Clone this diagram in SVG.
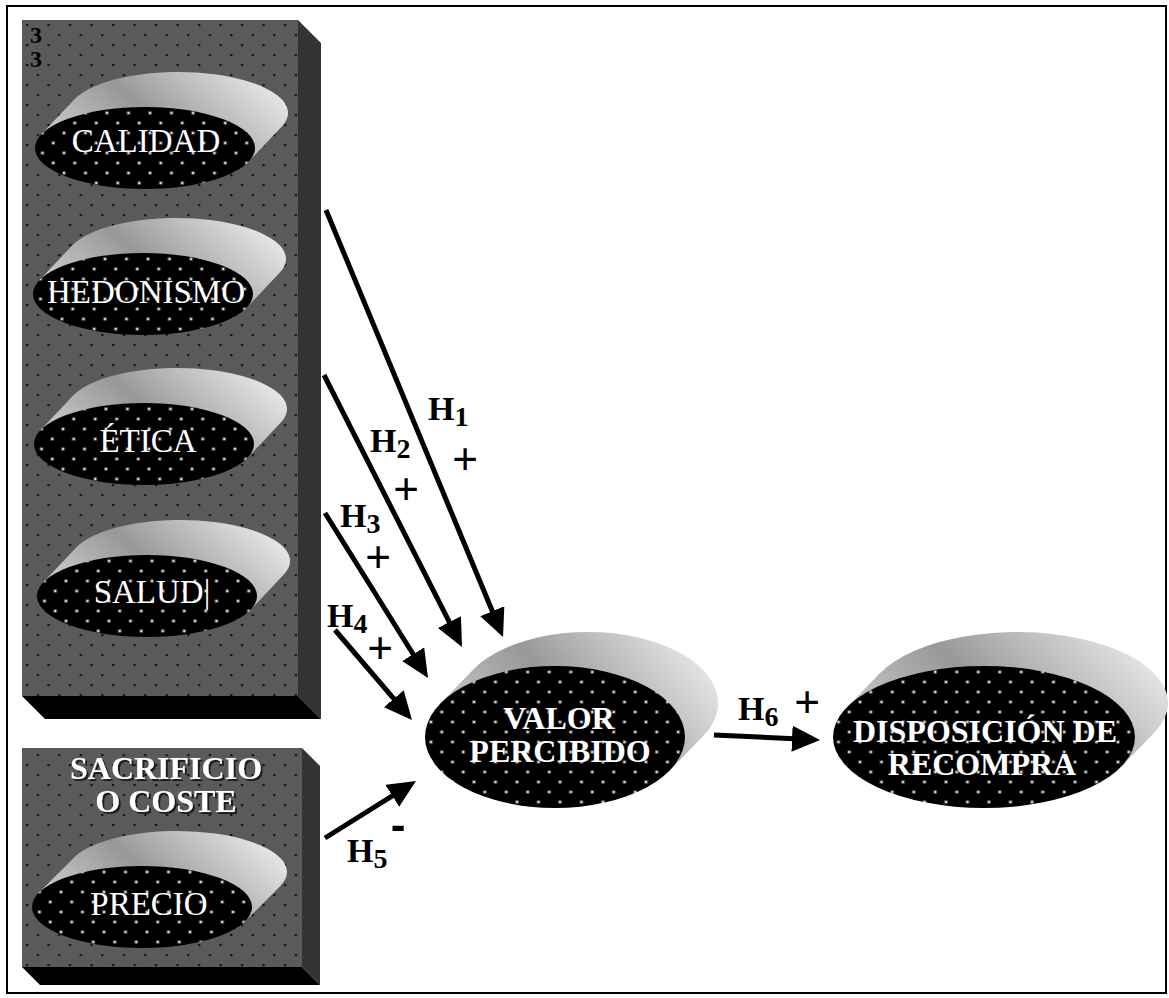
<svg xmlns="http://www.w3.org/2000/svg" width="1169" height="998" viewBox="0 0 1169 998">
<style>
.t{font-family:"Liberation Serif","Times New Roman",serif;font-size:33px;fill:#fff;text-anchor:middle}
.b{font-weight:bold;font-size:32px}
.sh{filter:url(#fSh)}
.h{font-family:"Liberation Serif","Times New Roman",serif;font-weight:bold;font-size:34px;fill:#000}
.sub{font-size:28px}
.num{font-family:"Liberation Serif","Times New Roman",serif;font-weight:bold;font-size:24px;fill:#000}
.pl{font-family:"Liberation Serif","Times New Roman",serif;font-weight:bold;font-size:46px;fill:#000;text-anchor:middle}
.mi{font-family:"Liberation Sans",Arial,sans-serif;font-weight:bold;font-size:44px;fill:#000;text-anchor:middle}
.front{fill:url(#pBox)}
.side{fill:#333}
.bottom{fill:#000}
.lid{fill:url(#gLid)}
.hole{fill:url(#pHole)}
#connectors line{stroke:#000;stroke-width:5;marker-end:url(#ah)}
</style>
<defs>
<filter id="fSh" x="-10%" y="-20%" width="120%" height="150%">
<feDropShadow dx="2" dy="2" stdDeviation="0.6" flood-color="#1a1a1a" flood-opacity="1"/>
</filter>
<pattern id="pBox" patternUnits="userSpaceOnUse" width="21.5" height="20" x="22" y="20">
<rect width="21.5" height="20" fill="#5a5a5a"/>
<rect x="4" y="4" width="2.2" height="2.2" fill="#111"/>
<rect x="14.75" y="14" width="2.2" height="2.2" fill="#111"/>
</pattern>
<pattern id="pHole" patternUnits="userSpaceOnUse" width="21.5" height="20">
<rect width="21.5" height="20" fill="#000"/>
<circle cx="5" cy="5" r="2.2" fill="#4a4a4a"/>
<circle cx="5" cy="5" r="1.1" fill="#f4f4f4"/>
<circle cx="15.75" cy="15" r="2.2" fill="#4a4a4a"/>
<circle cx="15.75" cy="15" r="1.1" fill="#f4f4f4"/>
</pattern>
<linearGradient id="gLid" x1="0" y1="0.7" x2="1" y2="0.3">
<stop offset="0" stop-color="#cfcfcf"/>
<stop offset="0.45" stop-color="#989898"/>
<stop offset="1" stop-color="#e8e8e8"/>
</linearGradient>
<path id="lidS" d="M-103.8,-13.6 L-70.8,-48.6 A110 41 0 0 1 136.8,-21.4 L103.8,13.6 Z"/>
<path id="lidP" d="M-103.1,-14.3 L-68.1,-49.3 A110 41 0 0 1 138.1,-20.7 L103.1,14.3 Z"/>
<marker id="ah" markerUnits="userSpaceOnUse" viewBox="0 0 28 26" markerWidth="28" markerHeight="26" refX="18" refY="13" orient="auto">
<path d="M0,0 L28,13 L0,26 Z" fill="#000"/>
</marker>
</defs>
<rect x="0" y="0" width="1169" height="998" fill="#fff"/>
<rect x="7" y="6" width="1159" height="987" fill="none" stroke="#000" stroke-width="2"/>

<g id="box-atributos">
<rect class="front" x="22" y="20" width="276" height="676"/>
<polygon class="side" points="298,20 321,43 321,719 298,696"/>
<polygon class="bottom" points="22,696 298,696 321,719 45,719"/>
<text class="num" x="30" y="43">3</text>
<text class="num" x="30" y="67">3</text>
</g>

<g id="calidad" transform="translate(145,148)">
<use href="#lidS" class="lid"/>
<ellipse class="hole" rx="110" ry="41"/>
<text class="t" x="1" y="4">CALIDAD</text>
</g>
<g id="hedonismo" transform="translate(143,294)">
<use href="#lidS" class="lid"/>
<ellipse class="hole" rx="110" ry="41"/>
<text class="t" x="3" y="9">HEDONISMO</text>
</g>
<g id="etica" transform="translate(144,444)">
<use href="#lidS" class="lid"/>
<ellipse class="hole" rx="110" ry="41"/>
<text class="t" x="4" y="8">ÉTICA</text>
</g>
<g id="salud" transform="translate(147,596)">
<use href="#lidS" class="lid"/>
<ellipse class="hole" rx="110" ry="41"/>
<text class="t" x="5" y="7">SALUD|</text>
</g>

<g id="box-sacrificio">
<rect class="front" x="22" y="748" width="280" height="219"/>
<polygon class="side" points="302,748 320,766 320,985 302,967"/>
<polygon class="bottom" points="22,967 302,967 320,985 40,985"/>
<text class="t b sh" x="166" y="779">SACRIFICIO</text>
<text class="t b sh" x="166" y="812">O COSTE</text>
</g>
<g id="precio" transform="translate(142,907)">
<use href="#lidP" class="lid"/>
<ellipse class="hole" rx="110" ry="41"/>
<text class="t" x="7" y="8">PRECIO</text>
</g>

<g id="valor-percibido" transform="translate(555,737)">
<path class="lid" d="M-114.9,-33.3 L-81.9,-67.3 A130 71 0 0 1 147.9,-0.7 L114.9,33.3 Z"/>
<ellipse class="hole" rx="130" ry="71"/>
<text class="t b" x="4" y="-8">VALOR</text>
<text class="t b" x="5" y="25">PERCIBIDO</text>
</g>

<g id="disposicion-recompra" transform="translate(984,737)">
<path class="lid" d="M-137.4,-29.5 L-104.4,-63.5 A151 71 0 0 1 170.4,-4.5 L137.4,29.5 Z"/>
<ellipse class="hole" rx="151" ry="71"/>
<text class="t b" x="1" y="5">DISPOSICIÓN DE</text>
<text class="t b" x="-2" y="38">RECOMPRA</text>
</g>

<g id="connectors">
<line x1="326" y1="210" x2="499.2" y2="627.8"/>
<line x1="324" y1="375" x2="457.5" y2="638.1"/>
<line x1="325" y1="513" x2="422.7" y2="669.5"/>
<line x1="335" y1="630" x2="405.5" y2="712.4"/>
<line x1="325" y1="838" x2="407.5" y2="786.3"/>
<line x1="714" y1="735" x2="810" y2="739.5"/>
</g>

<g id="labels">
<text class="h" x="428" y="420">H<tspan class="sub" dy="6">1</tspan></text>
<text class="pl" x="465" y="475">+</text>
<text class="h" x="370" y="452">H<tspan class="sub" dy="6">2</tspan></text>
<text class="pl" x="406" y="505">+</text>
<text class="h" x="340" y="527">H<tspan class="sub" dy="6">3</tspan></text>
<text class="pl" x="378" y="573">+</text>
<text class="h" x="327" y="627">H<tspan class="sub" dy="6">4</tspan></text>
<text class="pl" x="380" y="664">+</text>
<text class="h" x="347" y="862">H<tspan class="sub" dy="6">5</tspan></text>
<text class="mi" x="398" y="840">-</text>
<text class="h" x="738" y="720">H<tspan class="sub" dy="6">6</tspan></text>
<text class="pl" x="807" y="718">+</text>
</g>
</svg>
